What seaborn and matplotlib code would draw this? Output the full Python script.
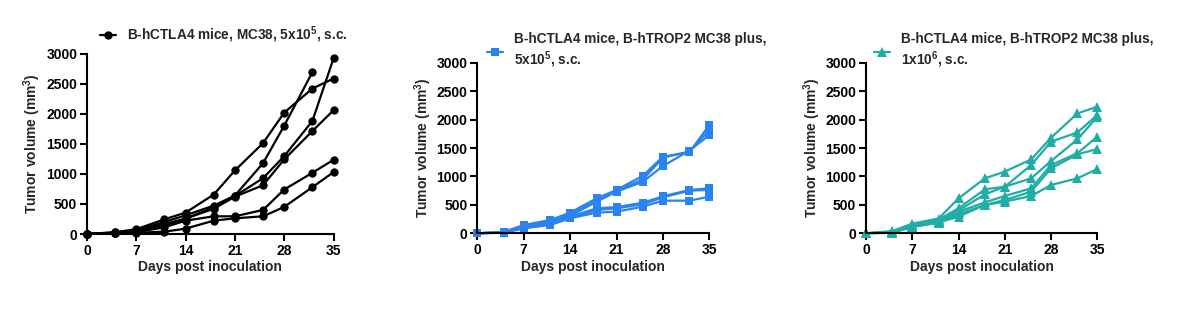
import numpy as np
import pandas as pd
import matplotlib
matplotlib.use("Agg")
import matplotlib.pyplot as plt
from matplotlib.lines import Line2D
import seaborn as sns

sns.set_theme(style="ticks")
plt.rcParams['font.family'] = ['Liberation Sans', 'DejaVu Sans']
plt.rcParams['font.weight'] = 'bold'
plt.rcParams['mathtext.default'] = 'regular'

days = [0, 4, 7, 11, 14, 18, 21, 25, 28, 32, 35]
x_ticks = [0, 7, 14, 21, 28, 35]
y_ticks = [0, 500, 1000, 1500, 2000, 2500, 3000]

# Panel 1: B-hCTLA4 mice, MC38, 5x10^5
mc38_m1 = [0, 30, 80, 244, 356, 656, 1056, 1511, 2017, 2417, 2583]
mc38_m2 = [0, 25, 60, 200, 311, 472, 639, 1178, 1800, 2689, np.nan]
mc38_m3 = [0, 20, 50, 167, 256, 444, 630, 928, 1294, 1878, 2917]
mc38_m4 = [0, 20, 40, 140, 256, 420, 620, 811, 1239, 1711, 2056]
mc38_m5 = [0, 15, 30, 111, 222, 294, 294, 400, 739, 1017, 1233]
mc38_m6 = [0, 10, 20, 39, 89, 222, 261, 294, 450, 778, 1028]

# Panel 2: B-hTROP2 MC38 plus, 5x10^5
trop5_m1 = [0, 25, 146, 234, 363, 615, 762, 1014, 1347, 1424, 1904]
trop5_m2 = [0, 20, 120, 200, 330, 580, 750, 949, 1330, 1440, 1816]
trop5_m3 = [0, 15, 105, 176, 305, 557, 732, 908, 1183, 1453, 1728]
trop5_m4 = [0, 20, 100, 200, 290, 440, 460, 539, 650, 762, 791]
trop5_m5 = [0, 15, 88, 160, 264, 410, 439, 510, 633, 750, 762]
trop5_m6 = [0, 10, 90, 146, 264, 363, 381, 469, 574, 574, 644]

# Panel 3: B-hTROP2 MC38 plus, 1x10^6
trop6_m1 = [0, 40, 170, 260, 615, 967, 1084, 1300, 1681, 2109, 2226]
trop6_m2 = [0, 30, 150, 240, 440, 773, 820, 1200, 1611, 1775, 2080]
trop6_m3 = [0, 20, 130, 220, 400, 686, 820, 967, 1271, 1652, 2050]
trop6_m4 = [0, 20, 120, 200, 380, 545, 656, 791, 1200, 1410, 1699]
trop6_m5 = [0, 15, 117, 187, 340, 498, 586, 732, 1142, 1390, 1482]
trop6_m6 = [0, 10, 110, 190, 293, 498, 557, 656, 850, 967, 1131]

titles = [
    "B-hCTLA4 mice, MC38, 5x10$^5$, s.c.",
    "B-hCTLA4 mice, B-hTROP2 MC38 plus,\n5x10$^5$, s.c.",
    "B-hCTLA4 mice, B-hTROP2 MC38 plus,\n1x10$^6$, s.c.",
]
colors = ["#000000", "#2A83EE", "#1FADA5"]
markers = ["o", "s", "^"]
groups = [
    [mc38_m1, mc38_m2, mc38_m3, mc38_m4, mc38_m5, mc38_m6],
    [trop5_m1, trop5_m2, trop5_m3, trop5_m4, trop5_m5, trop5_m6],
    [trop6_m1, trop6_m2, trop6_m3, trop6_m4, trop6_m5, trop6_m6],
]

W, H = 1178, 322
fig = plt.figure(figsize=(W / 100, H / 100), dpi=100)
# axes boxes in pixels: left, right, bottom(y of 0), top(y of 3000)
boxes = [(87, 333.5, 234, 53.5), (477.3, 709.3, 233.3, 62.7), (866, 1097.3, 233.3, 62.7)]
leg_pos = [(100, 35), (487, 51), (874, 51)]
msizes = [6, 5.5, 6.5]

for i in range(3):
    l, r, b, t = boxes[i]
    ax = fig.add_axes([l / W, 1 - b / H, (r - l) / W, (b - t) / H])
    rows = []
    for k, vals in enumerate(groups[i]):
        for d, v in zip(days, vals):
            rows.append({"day": d, "vol": v, "mouse": k})
    df = pd.DataFrame(rows).dropna()
    sns.lineplot(data=df, x="day", y="vol", units="mouse", estimator=None,
                 color=colors[i], marker=markers[i], markersize=msizes[i],
                 markeredgewidth=0, linewidth=1.6, ax=ax, clip_on=False,
                 legend=False)
    ax.set_xlim(0, 35)
    ax.set_ylim(0, 3000)
    ax.set_xticks(x_ticks)
    ax.set_yticks(y_ticks)
    ax.tick_params(axis="both", direction="out", length=5, width=1.5,
                   labelsize=10, pad=2, color="black", labelcolor="black")
    for lab in ax.get_xticklabels() + ax.get_yticklabels():
        lab.set_fontweight("bold")
    for s in ["left", "bottom"]:
        ax.spines[s].set_linewidth(1.5)
        ax.spines[s].set_color("black")
    sns.despine(ax=ax)
    ax.set_xlabel("Days post inoculation", fontsize=10, fontweight="bold", labelpad=2)
    ax.set_ylabel("Tumor volume (mm$^3$)", fontsize=10, fontweight="bold", labelpad=2)
    handle = Line2D([], [], color=colors[i], marker=markers[i],
                    markersize=msizes[i], markeredgewidth=0, linewidth=1.6)
    lx, ly = leg_pos[i]
    leg = ax.legend([handle], [titles[i]], loc="center left",
                    bbox_to_anchor=((lx - l) / (r - l), (b - ly) / (b - t)),
                    frameon=False, borderpad=0, borderaxespad=0,
                    handlelength=1.2, handletextpad=0.75,
                    prop={"weight": "bold", "size": 9.8})
    for txt in leg.get_texts():
        txt.set_linespacing(1.28)

fig.savefig("out.png", dpi=100, facecolor="white")
